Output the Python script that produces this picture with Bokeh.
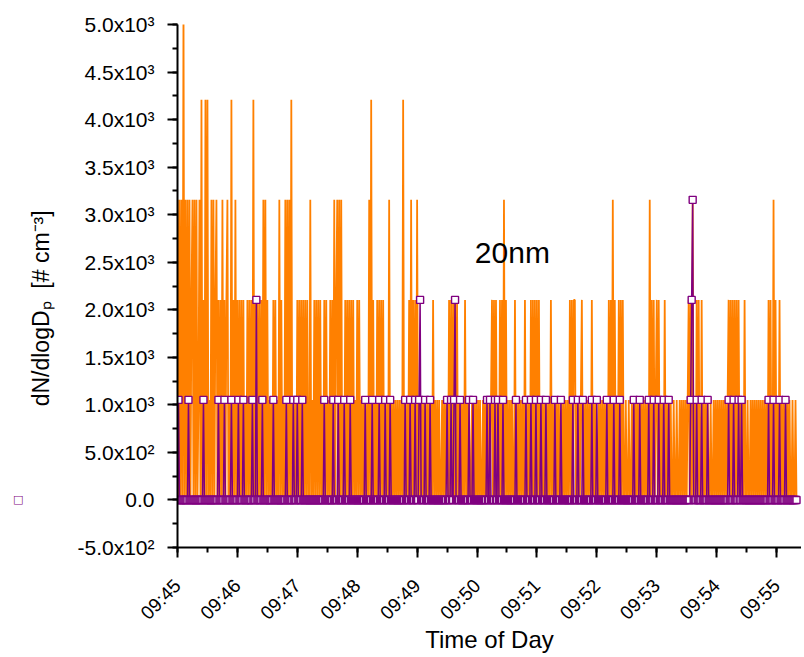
import math
import pandas as pd
from bokeh.plotting import figure
from bokeh.models import (Range1d, FixedTicker, DatetimeTickFormatter, Label,
                          LinearAxis)
from bokeh.embed import file_html
from bokeh.resources import INLINE

# 1 Hz record starting 09:45:00, values are counts per second (x COUNT_STEP)
START = "2000-01-01 09:45:00"
COUNT_STEP = 1052.0

ORANGE_COUNTS = (
    "3030305030" "3030230303" "0130402040" "4010303023" "0202030202"
    "3010402030" "2020202010" "2020204020" "2020203030" "2010102020"
    "1030201030" "3030401010" "2020202020" "2003010202" "0202010202"
    "0102020302" "3030301020" "2020202010" "2020101010" "1030402010"
    "2020202010" "1030101010" "1010104010" "1020302020" "3010101010"
    "1010102010" "1010010101" "1020202020" "2010101020" "1010010101"
    "0101001010" "1010120202" "0102020302" "0101010020" "1010101020"
    "1010202020" "2020101010" "1010201010" "1010010101" "0102020220"
    "1010120101" "0101020101" "0010101010" "1020203020" "1020202001"
    "0010010101" "0101010101" "0103020201" "2020101020" "1010100100"
    "1001010101" "0120203010" "2020020101" "0100100101" "0101010101"
    "0120202020" "2020101020" "0100101010" "1010101010" "1020200302"
    "0102010101" "0101001001" "0"
)

PURPLE_COUNTS = (
    "0100000000" "0100000000" "0000001000" "0000000000" "0100000100"
    "0000100000" "0100001000" "0000010002" "0000010000" "0000001000"
    "0000000001" "0000001000" "1000010000" "0000000000" "0000000100"
    "0000001000" "0100000100" "0001000000" "0000000010" "0000010000"
    "0010000010" "0001000000" "0000000010" "0001000010" "0012000010"
    "0001000000" "0000000000" "1000100120" "0001000000" "0010001000"
    "0000000000" "1001000010" "0100001000" "0000000001" "0000000001"
    "0000100001" "0000100001" "0000000010" "0000100000" "0000001000"
    "0100001000" "0000010000" "1000000000" "1000000100" "0001000000"
    "0000000100" "0001000000" "0010000100" "0010000100" "0010000000"
    "0000000000" "0000123000" "1000010000" "0100000000" "0000000000"
    "0010000100" "0010010000" "0000000000" "0000000000" "0010000100"
    "0001000001" "0000000000" "0"
)

Y_TICKS = [-500, 0, 500, 1000, 1500, 2000, 2500, 3000, 3500, 4000, 4500, 5000]
Y_LABELS = ["-5.0x10²", "0.0", "5.0x10²", "1.0x10³", "1.5x10³", "2.0x10³",
            "2.5x10³", "3.0x10³", "3.5x10³", "4.0x10³", "4.5x10³", "5.0x10³"]
X_TICKS = ["09:45", "09:46", "09:47", "09:48", "09:49", "09:50",
           "09:51", "09:52", "09:53", "09:54", "09:55"]

FONT = "Liberation Sans"
NB = "\u00a0"

times = pd.date_range(START, periods=len(ORANGE_COUNTS), freq="s")
orange = [int(c) * COUNT_STEP for c in ORANGE_COUNTS]
purple = [int(c) * COUNT_STEP for c in PURPLE_COUNTS]


def ms(ts):
    return pd.Timestamp(ts).value / 1e6


day = START[:10]
t0 = ms(START)
x_end = ms(day + " 09:55:25")
major = [ms(day + " " + s) for s in X_TICKS]
minor = [m + k * 30000 for m in major for k in (0, 1)]

p = figure(width=801, height=657, x_axis_type="datetime",
           x_range=Range1d(t0, x_end), y_range=Range1d(-500, 5000),
           output_backend="svg", toolbar_location=None,
           min_border_left=177, min_border_right=0,
           min_border_top=24, min_border_bottom=110)
p.outline_line_color = None
p.xgrid.visible = False
p.ygrid.visible = False

p.line(times, orange, line_color="#FF8000", line_width=1.8)
p.line(times, purple, line_color="#800080", line_width=1.5)
p.scatter(times, purple, marker="square", size=7, fill_color="white",
          line_color="#800080", line_width=1.4)

p.xaxis.ticker = FixedTicker(ticks=major, minor_ticks=minor)
p.xaxis.formatter = DatetimeTickFormatter(
    microseconds="%H:%M", milliseconds="%H:%M", seconds="%H:%M",
    minsec="%H:%M", minutes="%H:%M", hourmin="%H:%M", hours="%H:%M")
p.xaxis.major_label_orientation = math.pi / 4
p.xaxis.axis_label = "Time of Day"

p.yaxis.ticker = FixedTicker(ticks=Y_TICKS,
                             minor_ticks=[v + 250 for v in Y_TICKS[:-1]] + Y_TICKS)
p.yaxis.major_label_overrides = dict(zip(Y_TICKS, Y_LABELS))
# trailing blanks push the centred title down, as in the original
p.yaxis.axis_label = "dN/dlogDₚ" + NB * 2 + "[# cm⁻³]" + NB * 7

for ax in (p.xaxis[0], p.yaxis[0]):
    ax.axis_line_width = 2
    ax.axis_line_color = "black"
    ax.major_tick_line_width = 2
    ax.minor_tick_line_width = 2
    ax.major_tick_in = 0
    ax.major_tick_out = 10
    ax.minor_tick_in = 0
    ax.minor_tick_out = 5
    ax.major_label_text_font = FONT
    ax.major_label_text_color = "black"
    ax.axis_label_text_font = FONT
    ax.axis_label_text_font_style = "normal"
    ax.axis_label_text_color = "black"

p.yaxis.major_label_text_font_size = "21px"
p.yaxis.major_label_standoff = 13
p.yaxis.axis_label_text_font_size = "23px"
p.yaxis.axis_label_standoff = 20
p.xaxis.major_label_text_font_size = "19px"
p.xaxis.major_label_standoff = 25
p.xaxis.axis_label_text_font_size = "24px"
p.xaxis.axis_label_standoff = -8

# the lone key symbol left of the y title
key = LinearAxis(ticker=FixedTicker(ticks=[0], minor_ticks=[]),
                 major_label_overrides={0: "□"}, axis_line_color=None,
                 major_tick_line_color=None, major_tick_out=0, major_tick_in=0,
                 major_label_standoff=2, major_label_text_font="DejaVu Sans",
                 major_label_text_font_size="11px",
                 major_label_text_color="#800080")
p.add_layout(key, "left")

p.add_layout(Label(x=t0 + 297.8 * 1000, y=2606, text="20nm",
                   text_baseline="alphabetic", text_font=FONT,
                   text_font_size="30px", text_color="black"))

open("out.html", "w").write(file_html(p, INLINE))
